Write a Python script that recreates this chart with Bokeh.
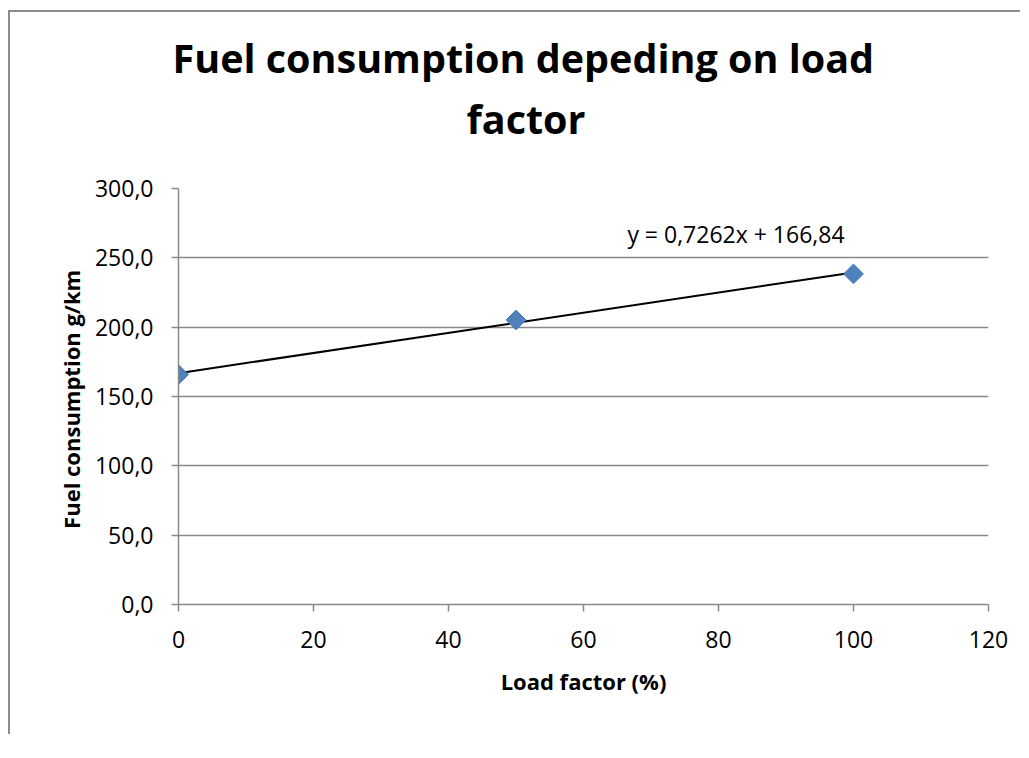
from bokeh.plotting import figure
from bokeh.models import Range1d, FixedTicker, Title, Label
from bokeh.embed import file_html
from bokeh.resources import INLINE
import math

# data
load_factor = [0, 50, 100]
fuel_consumption = [165.8, 205.2, 238.4]
trend_slope = 0.7262
trend_intercept = 166.84
trend_x = [0, 100]
x_ticks = [0, 20, 40, 60, 80, 100, 120]
y_ticks = [0, 50, 100, 150, 200, 250, 300]
title_lines = ["Fuel consumption depeding on load", "factor"]
equation_text = "y = 0,7262x + 166,84"

FONT = "Open Sans"
GRAY = "#8a8a8a"

W, H = 1012, 724
p = figure(width=W, height=H, output_backend="svg", toolbar_location=None,
           x_range=Range1d(0, 120), y_range=Range1d(0, 300),
           min_border_left=168, min_border_right=W - 978, min_border_top=176,
           min_border_bottom=H - 592,
           styles={"margin-left": "10px", "margin-top": "12px",
                   "box-shadow": "-2px -2px 0px 0px #8c8c8c"})
p.title.text = ""
p.outline_line_color = None
p.background_fill_color = "white"
p.border_fill_color = "white"

# axes
p.xaxis.ticker = FixedTicker(ticks=x_ticks)
p.yaxis.ticker = FixedTicker(ticks=y_ticks)
p.xaxis.major_label_overrides = {t: str(t) for t in x_ticks}
p.yaxis.major_label_overrides = {t: f"{t:.1f}".replace(".", ",") for t in y_ticks}
for ax in (p.xaxis[0], p.yaxis[0]):
    ax.axis_line_color = GRAY
    ax.axis_line_width = 1.5
    ax.major_tick_line_color = GRAY
    ax.major_tick_line_width = 1.5
    ax.major_tick_out = 7
    ax.major_tick_in = 0
    ax.minor_tick_line_color = None
    ax.major_label_text_font = FONT
    ax.major_label_text_font_size = "23px"
    ax.major_label_text_color = "black"
    ax.axis_label_text_font = FONT
    ax.axis_label_text_font_style = "bold"
    ax.axis_label_text_font_size = "22px"
    ax.axis_label_text_color = "black"
p.xaxis.axis_label = "Load factor (%)"
p.yaxis.axis_label = "Fuel consumption  g/km"
p.xaxis.major_label_standoff = 19
p.yaxis.major_label_standoff = 18
p.xaxis.axis_label_standoff = 15
p.yaxis.axis_label_standoff = 6

p.xgrid.grid_line_color = None
p.ygrid.ticker = FixedTicker(ticks=y_ticks)
p.ygrid.grid_line_color = GRAY
p.ygrid.grid_line_width = 1.5

# titles (second line closest to the frame)
p.add_layout(Title(text=title_lines[1], align="left", offset=288, text_font=FONT,
                   text_font_style="bold", text_font_size="39.5px", text_color="black",
                   standoff=86), "above")
p.add_layout(Title(text=title_lines[0], align="left", offset=-6, text_font=FONT,
                   text_font_style="bold", text_font_size="39.5px", text_color="black",
                   standoff=-77), "above")

# trendline
trend_y = [trend_intercept + trend_slope * x for x in trend_x]
p.line(trend_x, trend_y, line_color="black", line_width=2)

# points
p.scatter(load_factor, fuel_consumption, marker="square", size=14, angle=math.pi / 4,
          fill_color="#4F81BD", line_color="#4A7EBB", line_width=1)

p.add_layout(Label(x=66.5, y=267, text=equation_text, text_font=FONT, text_font_size="23px",
                   text_baseline="middle", text_color="black"))

open("out.html", "w").write(file_html(p, INLINE))
